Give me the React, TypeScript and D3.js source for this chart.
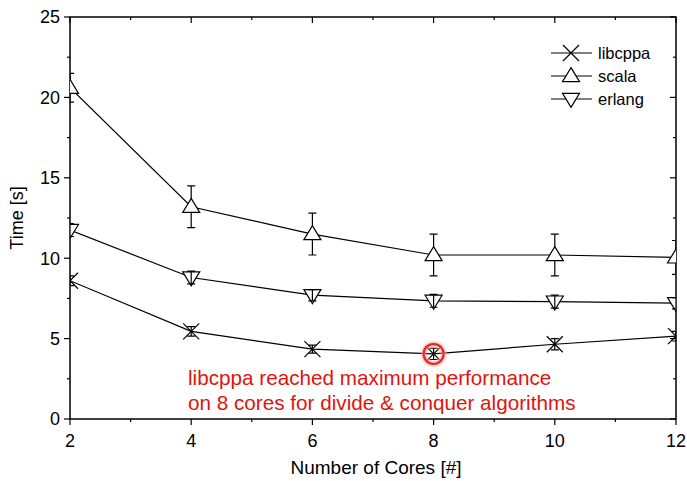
import { useMemo } from 'react';
import * as d3 from 'd3';

const cores = [2, 4, 6, 8, 10, 12];
const libcppa = [8.6, 5.45, 4.35, 4.05, 4.65, 5.15];
const libcppaErr = [0.3, 0.3, 0.25, 0.35, 0.35, 0.3];
const scala = [20.6, 13.2, 11.5, 10.2, 10.2, 10.05];
const scalaErr = [0.9, 1.3, 1.3, 1.3, 1.3, 1.05];
const erlang = [11.75, 8.8, 7.7, 7.35, 7.3, 7.2];
const erlangErr = [0.4, 0.4, 0.35, 0.4, 0.4, 0.35];
const xTicks = [2, 4, 6, 8, 10, 12];
const yTicks = [0, 5, 10, 15, 20, 25];
const yMinor = [2.5, 7.5, 12.5, 17.5, 22.5];
const xMinor = [3, 5, 7, 9, 11];
const noteLines = ['libcppa reached maximum performance', 'on 8 cores for divide & conquer algorithms'];

const W = 687;
const H = 481;
const margin = { top: 17, right: 11, bottom: 62, left: 70 };
const font = '"Liberation Sans", Arial, sans-serif';

const Marker = ({ kind, x, y }: { kind: string; x: number; y: number }) => {
	if (kind === 'x') {
		const s = 8;
		return (
			<path
				d={`M${x - s},${y - s}L${x + s},${y + s}M${x - s},${y + s}L${x + s},${y - s}`}
				stroke="#000"
				strokeWidth={1.2}
				fill="none"
			/>
		);
	}
	const w = 8.5;
	const h = 14;
	const d =
		kind === 'up'
			? `M${x},${y - h * 0.6}L${x + w},${y + h * 0.4}L${x - w},${y + h * 0.4}Z`
			: `M${x},${y + h * 0.6}L${x + w},${y - h * 0.4}L${x - w},${y - h * 0.4}Z`;
	return <path d={d} stroke="#000" strokeWidth={1.2} fill="#fff" />;
};

const App = () => {
	const width = W - margin.left - margin.right;
	const height = H - margin.top - margin.bottom;

	const x = useMemo(() => d3.scaleLinear().domain([2, 12]).range([0, width]), [width]);
	const y = useMemo(() => d3.scaleLinear().domain([0, 25]).range([height, 0]), [height]);

	const line = d3
		.line<[number, number]>()
		.x((d) => x(d[0]))
		.y((d) => y(d[1]));

	const series = [
		{ name: 'libcppa', values: libcppa, err: libcppaErr, kind: 'x', barsOnTop: true },
		{ name: 'scala', values: scala, err: scalaErr, kind: 'up', barsOnTop: false },
		{ name: 'erlang', values: erlang, err: erlangErr, kind: 'down', barsOnTop: true },
	];

	const errBars = (s: (typeof series)[number]) =>
		cores.map((c, i) => {
			const cx = x(c);
			const top = y(s.values[i] + s.err[i]);
			const bot = y(s.values[i] - s.err[i]);
			return (
				<path
					key={i}
					d={`M${cx},${top}L${cx},${bot}M${cx - 4},${top}L${cx + 4},${top}M${cx - 4},${bot}L${cx + 4},${bot}`}
					stroke="#000"
					strokeWidth={1.2}
					fill="none"
				/>
			);
		});

	return (
		<svg width={W} height={H} style={{ position: 'absolute', left: 0, top: 0, background: '#fff' }}>
			<defs>
				<filter id="glow" x="-50%" y="-50%" width="200%" height="200%">
					<feGaussianBlur stdDeviation="1.5" />
				</filter>
				<clipPath id="plot">
					<rect x={0} y={0} width={width} height={height} />
				</clipPath>
			</defs>
			<g transform={`translate(${margin.left},${margin.top})`} fontFamily={font}>
				{/* frame */}
				<rect x={0} y={0} width={width} height={height} fill="none" stroke="#000" strokeWidth={1.5} />

				{/* ticks */}
				{xTicks.map((t) => (
					<g key={'xt' + t}>
						<line x1={x(t)} x2={x(t)} y1={height} y2={height + 6} stroke="#000" strokeWidth={1.2} />
						<line x1={x(t)} x2={x(t)} y1={0} y2={6} stroke="#000" strokeWidth={1.2} />
						<text x={x(t)} y={height + 28} textAnchor="middle" fontSize={18}>
							{t}
						</text>
					</g>
				))}
				{xMinor.map((t) => (
					<g key={'xm' + t}>
						<line x1={x(t)} x2={x(t)} y1={height} y2={height + 3} stroke="#000" strokeWidth={1.2} />
						<line x1={x(t)} x2={x(t)} y1={0} y2={3} stroke="#000" strokeWidth={1.2} />
					</g>
				))}
				{yTicks.map((t) => (
					<g key={'yt' + t}>
						<line x1={-6} x2={0} y1={y(t)} y2={y(t)} stroke="#000" strokeWidth={1.2} />
						<line x1={width - 6} x2={width} y1={y(t)} y2={y(t)} stroke="#000" strokeWidth={1.2} />
						<text x={-10} y={y(t)} dy="0.35em" textAnchor="end" fontSize={18}>
							{t}
						</text>
					</g>
				))}
				{yMinor.map((t) => (
					<g key={'ym' + t}>
						<line x1={-3} x2={0} y1={y(t)} y2={y(t)} stroke="#000" strokeWidth={1.2} />
						<line x1={width - 3} x2={width} y1={y(t)} y2={y(t)} stroke="#000" strokeWidth={1.2} />
					</g>
				))}

				{/* axis titles */}
				<text x={width / 2 + 3} y={height + 55} textAnchor="middle" fontSize={19}>
					Number of Cores [#]
				</text>
				<text transform={`translate(-47,${height / 2}) rotate(-90)`} textAnchor="middle" fontSize={18}>
					Time [s]
				</text>

				{/* data */}
				<g clipPath="url(#plot)">
					{series.map((s) => (
						<g key={s.name}>
							<path
								d={line(cores.map((c, i) => [c, s.values[i]]) as [number, number][]) || ''}
								fill="none"
								stroke="#000"
								strokeWidth={1.2}
							/>
							{!s.barsOnTop && errBars(s)}
							{cores.map((c, i) => (
								<Marker key={i} kind={s.kind} x={x(c)} y={y(s.values[i])} />
							))}
							{s.barsOnTop && errBars(s)}
						</g>
					))}
				</g>

				{/* highlight */}
				<circle cx={x(8)} cy={y(libcppa[3])} r={10} fill="none" stroke="#f4a0a0" strokeWidth={4} filter="url(#glow)" />
				<circle cx={x(8)} cy={y(libcppa[3])} r={10} fill="none" stroke="#e8281e" strokeWidth={2} />
				{noteLines.map((l, i) => (
					<text key={i} x={118} y={368 + i * 25} fontSize={20.7} fill="#e0140c">
						{l}
					</text>
				))}

				{/* legend */}
				{series.map((s, i) => {
					const ly = 36 + i * 23;
					return (
						<g key={'lg' + s.name}>
							<line x1={481} x2={522} y1={ly} y2={ly} stroke="#000" strokeWidth={1.2} />
							<Marker kind={s.kind} x={501} y={ly} />
							<text x={528} y={ly} dy="0.35em" fontSize={16.5}>
								{s.name}
							</text>
						</g>
					);
				})}
			</g>
		</svg>
	);
};

export default App;
